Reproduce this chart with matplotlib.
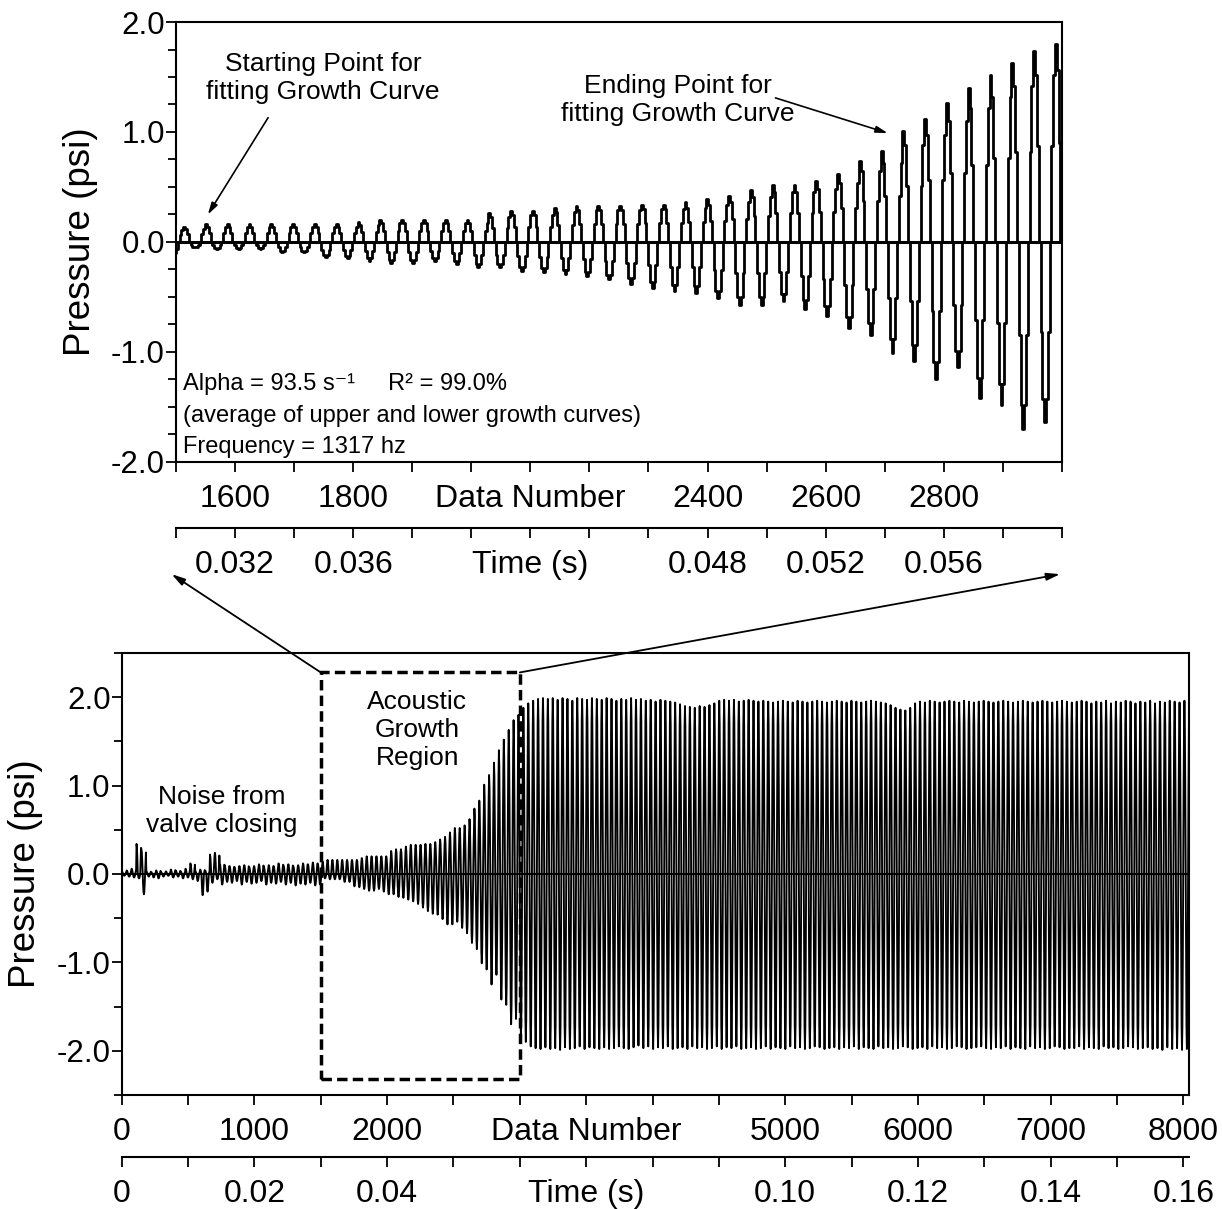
import numpy as np
import matplotlib
matplotlib.use('Agg')
from matplotlib import pyplot as plt
from matplotlib.ticker import FixedLocator, FuncFormatter, MultipleLocator
from matplotlib.patches import Rectangle, ConnectionPatch

plt.rcParams['font.family'] = ['Liberation Sans', 'DejaVu Sans']
plt.rcParams['axes.unicode_minus'] = False

FS = 50000          # data numbers per second
period = 36.9       # data numbers per acoustic cycle (read from peak spacing)
first_peak = 1.0

# peak / trough of every cycle (psi)
noise_peaks = [0.03, 0.04, 0.06, 0.34, 0.28, 0.03, 0.02, 0.04, 0.02, 0.03, 0.05, 0.04, 0.03, 0.06,
               0.12, 0.03, 0.05, 0.04, 0.22, 0.24, 0.12, 0.10, 0.09, 0.08, 0.09, 0.10, 0.08, 0.09,
               0.11, 0.08, 0.10, 0.09, 0.12, 0.10, 0.11, 0.09, 0.10, 0.12, 0.11, 0.13, 0.12]
noise_troughs = [-0.02, -0.03, -0.04, -0.05, -0.23, -0.03, -0.04, -0.05, -0.03, -0.02, -0.04, -0.03,
                 -0.05, -0.04, -0.06, -0.08, -0.24, -0.20, -0.10, -0.06, -0.12, -0.09, -0.10, -0.08,
                 -0.12, -0.09, -0.11, -0.10, -0.08, -0.12, -0.10, -0.11, -0.09, -0.12, -0.10, -0.13,
                 -0.11, -0.12, -0.10, -0.13, -0.12]
growth_peaks = [0.14, 0.16, 0.16, 0.16, 0.16, 0.16, 0.16, 0.16, 0.18, 0.20, 0.20, 0.20, 0.20, 0.20,
                0.26, 0.28, 0.28, 0.31, 0.33, 0.33, 0.33, 0.34, 0.34, 0.36, 0.39, 0.42, 0.47,
                0.52, 0.52, 0.55, 0.62, 0.74, 0.83, 1.01, 1.12, 1.26, 1.40, 1.52, 1.63, 1.74, 1.80]
growth_troughs = [-0.05, -0.06, -0.06, -0.06, -0.09, -0.09, -0.14, -0.15, -0.17, -0.19, -0.19, -0.17,
                  -0.20, -0.23, -0.23, -0.26, -0.27, -0.29, -0.31, -0.34, -0.38, -0.42, -0.45, -0.46,
                  -0.51, -0.57, -0.57, -0.54, -0.61, -0.67, -0.78, -0.85, -1.01, -1.08, -1.25, -1.14,
                  -1.42, -1.48, -1.70, -1.64, -1.84]
sat_peaks = [1.88, 1.93, 1.96, 1.98, 1.99, 1.98, 1.99, 1.97, 1.99, 1.98, 1.96, 1.99, 1.98, 1.97, 1.99, 1.98,
             1.97, 1.99, 1.98, 1.96, 1.98, 1.97, 1.99, 1.97, 1.98, 1.96, 1.97, 1.95, 1.97, 1.96, 1.95, 1.94,
             1.92, 1.90, 1.89, 1.88, 1.90, 1.89, 1.91, 1.93, 1.96, 1.97, 1.96, 1.97, 1.95, 1.96, 1.97, 1.96,
             1.95, 1.96, 1.95, 1.94, 1.95, 1.96, 1.95, 1.94, 1.96, 1.95, 1.94, 1.95, 1.96, 1.95, 1.94, 1.95,
             1.96, 1.95, 1.94, 1.96, 1.95, 1.94, 1.95, 1.96, 1.95, 1.94, 1.93, 1.91, 1.88, 1.86, 1.85, 1.88,
             1.93, 1.95, 1.94, 1.96, 1.95, 1.94, 1.95, 1.96, 1.95, 1.94, 1.96, 1.95, 1.94, 1.95, 1.96, 1.95,
             1.94, 1.95, 1.96, 1.95, 1.94, 1.95, 1.96, 1.95, 1.94, 1.95, 1.96, 1.95, 1.94, 1.95, 1.96, 1.95,
             1.94, 1.95, 1.96, 1.95, 1.93, 1.95, 1.94, 1.96, 1.93, 1.95, 1.94, 1.96, 1.95, 1.93, 1.95, 1.94,
             1.96, 1.93, 1.95, 1.94, 1.96, 1.95, 1.94, 1.96]
sat_troughs = [-1.90, -1.95, -1.97, -1.98, -1.96, -1.98, -1.97, -1.99, -1.96, -1.98, -1.97, -1.95, -1.98, -1.96, -1.97, -1.98,
               -1.96, -1.98, -1.97, -1.95, -1.97, -1.98, -1.96, -1.94, -1.97, -1.95, -1.98, -1.96, -1.97, -1.95, -1.98, -1.97,
               -1.96, -1.98, -1.95, -1.97, -1.96, -1.98, -1.97, -1.95, -1.98, -1.96, -1.97, -1.95, -1.98, -1.97, -1.96, -1.98,
               -1.97, -1.95, -1.98, -1.96, -1.97, -1.98, -1.95, -1.97, -1.96, -1.98, -1.97, -1.95, -1.96, -1.98, -1.97, -1.96,
               -1.98, -1.96, -1.97, -1.95, -1.98, -1.96, -1.97, -1.98, -1.95, -1.97, -1.96, -1.98, -1.97, -1.95, -1.96, -1.98,
               -1.97, -1.96, -1.98, -1.95, -1.97, -1.96, -1.98, -1.97, -1.95, -1.96, -1.98, -1.97, -1.96, -1.95, -1.97, -1.98,
               -1.96, -1.97, -1.95, -1.98, -1.96, -1.97, -1.98, -1.95, -1.97, -1.96, -1.98, -1.97, -1.95, -1.96, -1.98, -1.97,
               -1.97, -1.95, -1.98, -1.96, -1.97, -1.98, -1.95, -1.97, -1.96, -1.98, -1.97, -1.95, -1.96, -1.98, -1.97, -1.96,
               -1.98, -1.97, -1.99, -1.96, -1.98, -1.97, -1.99, -1.98]

# one cycle of the stepped waveform, starting at the peak
cycle_shape = np.array([1.0, 0.87, 0.5, 0.0, -0.5, -0.87, -1.0, -0.87, -0.5, 0.0, 0.5, 0.87])

top_dn_labels = {1600: '1600', 1800: '1800', 2100: 'Data Number', 2400: '2400', 2600: '2600', 2800: '2800'}
top_time_labels = {1600: '0.032', 1800: '0.036', 2100: 'Time (s)', 2400: '0.048', 2600: '0.052', 2800: '0.056'}
bot_dn_labels = {0: '0', 1000: '1000', 2000: '2000', 3500: 'Data Number', 5000: '5000', 6000: '6000',
                 7000: '7000', 8000: '8000'}
bot_time_labels = {0: '0', 1000: '0.02', 2000: '0.04', 3500: 'Time (s)', 5000: '0.10', 6000: '0.12',
                   7000: '0.14', 8000: '0.16'}

peaks = np.array(noise_peaks + growth_peaks + sat_peaks)
troughs = np.array(noise_troughs + growth_troughs + sat_troughs)
k = np.arange(len(peaks))
n_sub = len(cycle_shape)
xs = (first_peak + (k[:, None] + np.arange(n_sub)[None, :] / n_sub) * period).ravel()
ys = np.where(cycle_shape[None, :] >= 0, cycle_shape[None, :] * peaks[:, None],
              -cycle_shape[None, :] * troughs[:, None]).ravel()

fig = plt.figure(figsize=(12.22, 12.09), dpi=100)
ax1 = fig.add_axes([0.1440, 0.6179, 0.7250, 0.3639])
ax2 = fig.add_axes([0.0996, 0.0943, 0.8731, 0.3656])

# ---- top: zoom on the growth region
m = (xs > 1480) & (xs < 3020)
ax1.plot(xs[m], ys[m], color='k', lw=2.0, drawstyle='steps-mid')
ax1.axhline(0, color='k', lw=2.2)
ax1.set_xlim(1500, 3000)
ax1.set_ylim(-2, 2)

# ---- bottom: whole record
ax2.plot(xs, ys, color='k', lw=1.35)
ax2.axhline(0, color='k', lw=1.5)
ax2.set_xlim(0, 8040)
ax2.set_ylim(-2.5, 2.5)

def lab(d):
    return FuncFormatter(lambda v, p: d.get(int(round(v)), ''))

def tlab(d):
    return FuncFormatter(lambda v, p: d.get(int(round(v * FS)), ''))

for ax in (ax1, ax2):
    for s in ax.spines.values():
        s.set_linewidth(1.5)
    ax.tick_params(axis='both', which='both', direction='out', width=1.3)
    ax.tick_params(axis='x', length=7, pad=9, labelsize=23)
    ax.tick_params(axis='y', which='major', length=7, pad=1, labelsize=22.5)
    ax.tick_params(axis='y', which='minor', length=6)
    ax.yaxis.set_major_locator(FixedLocator([-2, -1, 0, 1, 2]))
    ax.yaxis.set_major_formatter(FuncFormatter(lambda v, p: f'{v:.1f}'))
    ax.set_ylabel('Pressure (psi)', fontsize=26.5)

ax1.xaxis.set_major_locator(MultipleLocator(100))
ax1.xaxis.set_major_formatter(lab(top_dn_labels))
ax1.yaxis.set_minor_locator(MultipleLocator(0.25))
ax1.yaxis.set_label_coords(-0.088, 0.5)

ax2.xaxis.set_major_locator(MultipleLocator(500))
ax2.xaxis.set_major_formatter(lab(bot_dn_labels))
ax2.yaxis.set_minor_locator(MultipleLocator(0.5))
ax2.yaxis.set_label_coords(-0.074, 0.5)

sec1 = ax1.secondary_xaxis(-0.15, functions=(lambda d: d / FS, lambda t: t * FS))
sec1.xaxis.set_major_locator(FixedLocator(np.arange(1500, 3001, 100) / FS))
sec1.xaxis.set_major_formatter(tlab(top_time_labels))

sec2 = ax2.secondary_xaxis(-0.14, functions=(lambda d: d / FS, lambda t: t * FS))
sec2.xaxis.set_major_locator(FixedLocator(np.arange(0, 8001, 500) / FS))
sec2.xaxis.set_major_formatter(tlab(bot_time_labels))

for sec in (sec1, sec2):
    sec.spines['bottom'].set_linewidth(1.5)
    sec.tick_params(direction='out', length=7, width=1.3, labelsize=23, pad=9)

# ---- annotations, top
ax1.text(1749, 1.49, 'Starting Point for\nfitting Growth Curve', ha='center', va='center', fontsize=19)
ax1.annotate('', xy=(1554, 0.25), xytext=(1656, 1.13),
             arrowprops=dict(arrowstyle='-|>,head_length=0.7,head_width=0.2', color='k', lw=1.2,
                             shrinkA=0, shrinkB=0))
ax1.text(2350, 1.29, 'Ending Point for\nfitting Growth Curve', ha='center', va='center', fontsize=19)
ax1.annotate('', xy=(2705, 0.99), xytext=(2515, 1.31),
             arrowprops=dict(arrowstyle='-|>,head_length=0.7,head_width=0.2', color='k', lw=1.2,
                             shrinkA=0, shrinkB=0))
ax1.text(1512, -1.29, 'Alpha = 93.5 s\u207b\u00b9     R\u00b2 = 99.0%', ha='left', va='center', fontsize=17)
ax1.text(1512, -1.58, '(average of upper and lower growth curves)', ha='left', va='center', fontsize=17)
ax1.text(1512, -1.86, 'Frequency = 1317 hz', ha='left', va='center', fontsize=17)

# ---- annotations, bottom
ax2.text(756, 0.71, 'Noise from\nvalve closing', ha='center', va='center', fontsize=19)
ax2.text(2227, 1.63, 'Acoustic\nGrowth\nRegion', ha='center', va='center', fontsize=19)
ax2.add_patch(Rectangle((1500, -2.32), 1500, 4.6, fill=False, ec='k', lw=2.5, ls=(0, (3, 1.5))))

for xa, xb in ((1500, -0.005), (3000, 0.998)):
    con = ConnectionPatch(xyA=(xa, 2.28), coordsA=ax2.transData, xyB=(xb, -0.255), coordsB=ax1.transAxes,
                          arrowstyle='-|>,head_length=0.8,head_width=0.22', color='k', lw=1.3,
                          shrinkA=0, shrinkB=0)
    fig.add_artist(con)

fig.savefig('out.png', dpi=100)
